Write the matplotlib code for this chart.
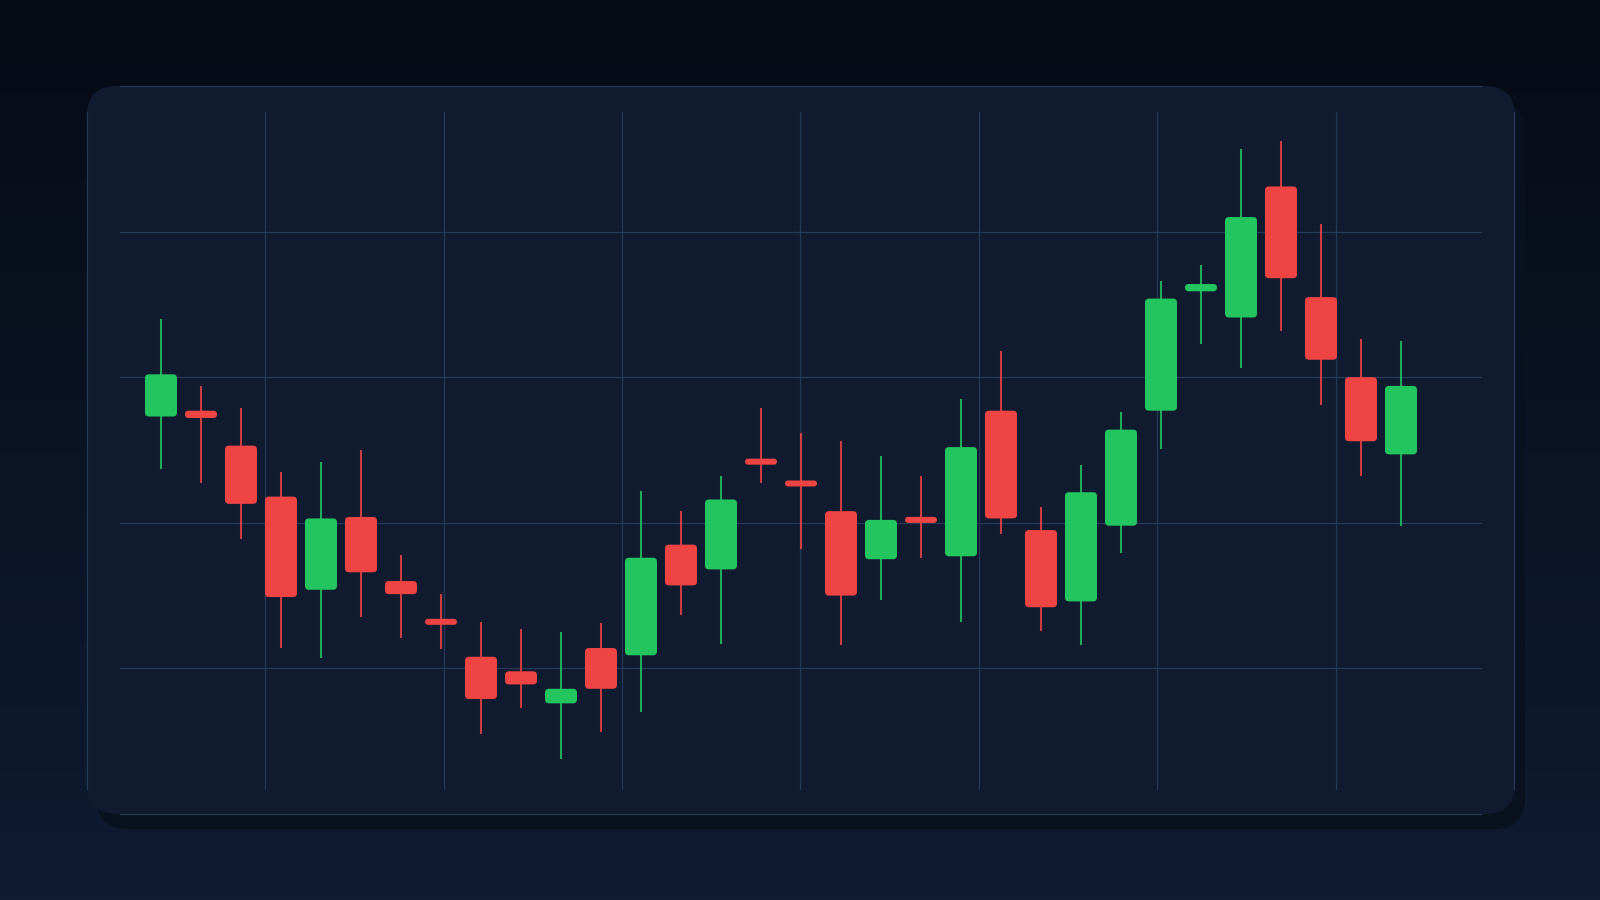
import numpy as np
import matplotlib
matplotlib.use("Agg")
import matplotlib.pyplot as plt
from matplotlib.patches import FancyBboxPatch
from matplotlib.colors import LinearSegmentedColormap

# OHLC values (32 sessions)
opens = [107.3, 107.7, 105.3, 101.8, 95.4, 100.4, 96.0, 93.4, 90.8, 89.8,
         87.6, 91.4, 90.9, 98.5, 96.8, 104.4, 102.9, 100.8, 97.5, 100.4,
         97.7, 107.7, 99.5, 94.6, 99.8, 107.7, 115.9, 114.1, 123.1, 115.5,
         110.0, 104.7]
highs = [114.0, 109.4, 107.9, 103.5, 104.2, 105.0, 97.8, 95.1, 93.2, 92.7,
         92.5, 93.1, 102.2, 100.8, 103.2, 107.9, 106.2, 105.6, 104.6, 103.2,
         108.5, 111.8, 101.1, 104.0, 107.6, 116.6, 117.7, 125.7, 126.2, 120.5,
         112.6, 112.5]
lows = [103.7, 102.7, 98.9, 91.4, 90.7, 93.5, 92.1, 91.3, 85.5, 87.3,
        83.8, 85.6, 87.0, 93.7, 91.7, 102.7, 98.2, 91.6, 94.7, 97.6,
        93.2, 99.2, 92.6, 91.6, 97.9, 105.1, 112.3, 110.6, 113.2, 108.1,
        103.2, 99.8]
closes = [110.2, 107.2, 101.3, 94.9, 100.3, 96.6, 95.1, 93.0, 87.9, 88.9,
          88.6, 88.6, 97.6, 95.7, 101.6, 104.0, 102.5, 95.0, 100.2, 100.0,
          105.2, 100.3, 94.2, 102.1, 106.4, 115.4, 116.4, 121.0, 116.8, 111.2,
          105.6, 109.4]
grid_levels = [80, 90, 100, 110, 120, 130]

UP = "#22c55e"
DOWN = "#ef4444"
GRID = "#253a57"
CARD = "#111b30"

W, H = 1600, 900
fig = plt.figure(figsize=(16, 9), dpi=100)

# background in pixel coordinates
bg = fig.add_axes([0, 0, 1, 1])
bg.set_xlim(0, W)
bg.set_ylim(H, 0)
bg.axis("off")
cmap = LinearSegmentedColormap.from_list("bg", ["#060b15", "#0b1424", "#0e1b31"])
bg.imshow(np.linspace(0, 1, 256).reshape(-1, 1), extent=[0, W, H, 0],
          cmap=cmap, aspect="auto", zorder=0)

card_x, card_y, card_w, card_h = 87, 86, 1428, 728
shadow = FancyBboxPatch((card_x + 10, card_y + 15), card_w, card_h,
                        boxstyle="round,pad=0,rounding_size=30",
                        fc="#09111e", ec="none", zorder=1)
card = FancyBboxPatch((card_x, card_y), card_w, card_h,
                      boxstyle="round,pad=0,rounding_size=30",
                      fc=CARD, ec="none", zorder=2)
bg.add_patch(shadow)
bg.add_patch(card)

# chart axes over the card
ax = fig.add_axes([card_x / W, (H - card_y - card_h) / H, 1427 / W, card_h / H])
ax.patch.set_visible(False)
ax.axis("off")
x = np.arange(len(opens))
ax.set_xlim(-1.85, 33.825)
ax.set_ylim(grid_levels[0], grid_levels[-1])

for v in grid_levels:
    ax.axhline(v, xmin=0.023, xmax=0.977, color=GRID, lw=0.9, clip_on=False, zorder=1)
for f in np.linspace(0, 1, 9):
    ax.plot([f, f], [0.034, 0.964], transform=ax.transAxes, color=GRID,
            lw=0.9, clip_on=False, zorder=1)

# pixels per data unit, to keep body corners circular
px_x = 1427 / (ax.get_xlim()[1] - ax.get_xlim()[0])
px_y = card_h / (ax.get_ylim()[1] - ax.get_ylim()[0])
aspect = px_x / px_y

body_w = 0.8
min_h = 6 / px_y
for xi, o, h, l, c in zip(x, opens, highs, lows, closes):
    col = UP if c >= o else DOWN
    ax.vlines(xi, l, h, colors=col, lw=1.5, alpha=0.85, zorder=2)
    bh = max(abs(c - o), min_h)
    mid = (o + c) / 2
    r_px = min(4, bh * px_y / 2)
    body = FancyBboxPatch((xi - body_w / 2, mid - bh / 2), body_w, bh,
                          boxstyle=f"round,pad=0,rounding_size={r_px / px_x}",
                          mutation_aspect=aspect, fc=col, ec="none", zorder=3)
    ax.add_patch(body)

fig.savefig("out.png", dpi=100)
